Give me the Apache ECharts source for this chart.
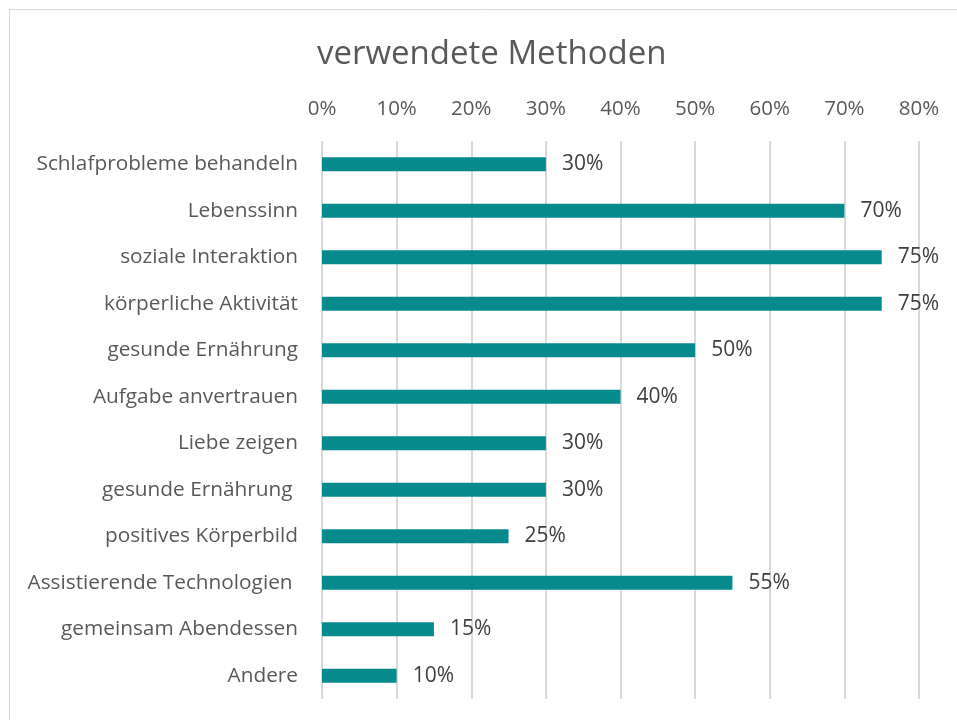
<!DOCTYPE html>
<html>
<head>
<meta charset="utf-8">
<script src="https://cdn.jsdelivr.net/npm/echarts@6/dist/echarts.min.js"></script>
<style>
  html, body { margin: 0; padding: 0; background: #fff; }
  #chart { width: 957px; height: 720px; }
</style>
</head>
<body>
<div id="chart"></div>
<script>
// Kategorien von oben nach unten
var categories = ['Schlafprobleme behandeln', 'Lebenssinn', 'soziale Interaktion', 'körperliche Aktivität',
  'gesunde Ernährung', 'Aufgabe anvertrauen', 'Liebe zeigen', 'gesunde Ernährung ',
  'positives Körperbild', 'Assistierende Technologien ', 'gemeinsam Abendessen', 'Andere'];
var values = [30, 70, 75, 75, 50, 40, 30, 30, 25, 55, 15, 10];
var axisMin = 0, axisMax = 80, axisStep = 10;

var fontFam = '"Open Sans", "Noto Sans", sans-serif';
var chart = echarts.init(document.getElementById('chart'));

var option = {
  backgroundColor: '#fff',
  animation: false,
  title: {
    text: 'verwendete Methoden',
    left: 312,
    top: 33,
    textStyle: { color: '#595959', fontSize: 33, fontWeight: 'normal', fontFamily: fontFam }
  },
  graphic: [{
    type: 'rect',
    shape: { x: 9.5, y: 9.5, width: 970, height: 740 },
    style: { fill: null, stroke: '#d9d9d9', lineWidth: 1 },
    silent: true
  }],
  grid: { left: 322, right: 38, top: 141, bottom: 21, containLabel: false },
  xAxis: {
    type: 'value',
    position: 'top',
    min: axisMin,
    max: axisMax,
    interval: axisStep,
    axisLine: { show: false },
    axisTick: { show: false },
    splitLine: { show: true, lineStyle: { color: '#d9d9d9', width: 2 } },
    axisLabel: {
      formatter: '{value}%',
      color: '#595959',
      fontSize: 20.5,
      fontFamily: fontFam,
      margin: 21
    }
  },
  yAxis: {
    type: 'category',
    inverse: true,
    data: categories,
    axisLine: { show: false },
    axisTick: { show: false },
    axisLabel: { color: '#595959', fontSize: 20.8, fontFamily: fontFam, margin: 24 }
  },
  series: [{
    type: 'bar',
    data: values,
    barWidth: 14,
    itemStyle: { color: '#078a8c' },
    label: {
      show: true,
      position: 'right',
      distance: 16,
      formatter: '{c}%',
      color: '#404040',
      fontSize: 21,
      fontFamily: fontFam
    }
  }]
};
chart.setOption(option);
</script>
</body>
</html>
